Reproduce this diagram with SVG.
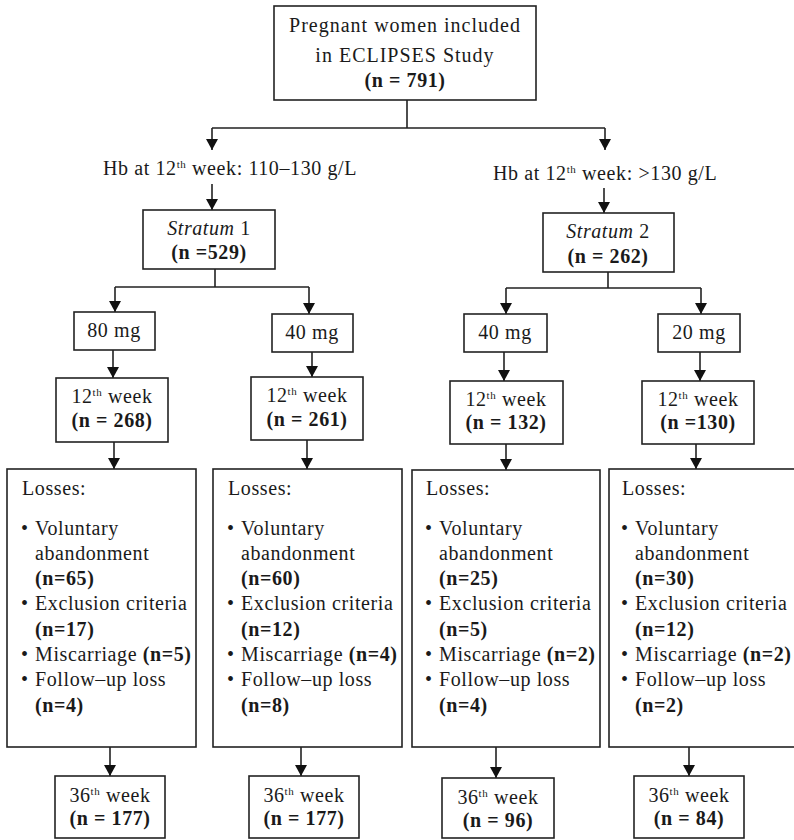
<svg xmlns="http://www.w3.org/2000/svg" width="794" height="840" viewBox="0 0 794 840">
<style>
  text { font-family: "Liberation Serif", "Times New Roman", serif; font-size: 20px; fill: #1a1a1a; letter-spacing: 0.6px; }
  .c { text-anchor: middle; }
  .b { font-weight: bold; }
  .i { font-style: italic; }
  .sup { font-size: 11px; }
  .box { fill: #ffffff; stroke: #222222; stroke-width: 1.6; }
  .ln { fill: none; stroke: #222222; stroke-width: 1.6; }
</style>
<defs>
  <marker id="ah" markerUnits="userSpaceOnUse" markerWidth="12" markerHeight="12" refX="11" refY="6" orient="auto">
    <path d="M0,0 L11,6 L0,12 z" fill="#111111"/>
  </marker>
</defs>
<rect width="794" height="840" fill="#ffffff"/>

<g id="connectors">
  <path class="ln" d="M407,100 V128 M212,128 H605"/>
  <path class="ln" d="M212,128 V150" marker-end="url(#ah)"/>
  <path class="ln" d="M605,128 V150" marker-end="url(#ah)"/>
  <path class="ln" d="M212,184 V210" marker-end="url(#ah)"/>
  <path class="ln" d="M604,188 V213" marker-end="url(#ah)"/>
  <path class="ln" d="M215,269 V287 M115,287 H309"/>
  <path class="ln" d="M115,287 V312" marker-end="url(#ah)"/>
  <path class="ln" d="M309,287 V314" marker-end="url(#ah)"/>
  <path class="ln" d="M608,272 V288 M506,288 H701"/>
  <path class="ln" d="M506,288 V314" marker-end="url(#ah)"/>
  <path class="ln" d="M701,288 V314" marker-end="url(#ah)"/>
  <path class="ln" d="M113,350 V378" marker-end="url(#ah)"/>
  <path class="ln" d="M312,352 V377" marker-end="url(#ah)"/>
  <path class="ln" d="M504,352 V381" marker-end="url(#ah)"/>
  <path class="ln" d="M700,352 V381" marker-end="url(#ah)"/>
  <path class="ln" d="M114,442 V469" marker-end="url(#ah)"/>
  <path class="ln" d="M307,440 V469" marker-end="url(#ah)"/>
  <path class="ln" d="M506,444 V470" marker-end="url(#ah)"/>
  <path class="ln" d="M696,444 V469" marker-end="url(#ah)"/>
  <path class="ln" d="M110,747 V776" marker-end="url(#ah)"/>
  <path class="ln" d="M301,747 V776" marker-end="url(#ah)"/>
  <path class="ln" d="M496,747 V778" marker-end="url(#ah)"/>
  <path class="ln" d="M689,747 V776" marker-end="url(#ah)"/>
</g>

<g id="root">
  <rect class="box" x="274" y="6" width="262" height="94"/>
  <text class="c" x="405" y="32" style="letter-spacing:1px">Pregnant women included</text>
  <text class="c" x="405" y="62" style="letter-spacing:1px">in ECLIPSES Study</text>
  <text class="c b" x="405" y="87">(n = 791)</text>
</g>

<g id="label-hb1">
  <text x="103" y="175">Hb at 12<tspan class="sup" dy="-7">th</tspan><tspan dy="7"> week: 110–130 g/L</tspan></text>
</g>
<g id="label-hb2">
  <text x="493" y="180">Hb at 12<tspan class="sup" dy="-7">th</tspan><tspan dy="7"> week: &gt;130 g/L</tspan></text>
</g>

<g id="stratum1">
  <rect class="box" x="143" y="210" width="132" height="59"/>
  <text class="c" x="209" y="235"><tspan class="i">Stratum</tspan> 1</text>
  <text class="c b" x="209" y="259">(n =529)</text>
</g>
<g id="stratum2">
  <rect class="box" x="543" y="213" width="131" height="59"/>
  <text class="c" x="608" y="238"><tspan class="i">Stratum</tspan> 2</text>
  <text class="c b" x="608" y="263">(n = 262)</text>
</g>

<g id="dose-80">
  <rect class="box" x="74" y="312" width="81" height="38"/>
  <text class="c" x="114" y="337">80 mg</text>
</g>
<g id="dose-40a">
  <rect class="box" x="272" y="314" width="81" height="38"/>
  <text class="c" x="312" y="339">40 mg</text>
</g>
<g id="dose-40b">
  <rect class="box" x="464" y="314" width="83" height="38"/>
  <text class="c" x="505" y="339">40 mg</text>
</g>
<g id="dose-20">
  <rect class="box" x="658" y="314" width="82" height="38"/>
  <text class="c" x="699" y="339">20 mg</text>
</g>

<g id="w12-1">
  <rect class="box" x="56" y="378" width="112" height="64"/>
  <text class="c" x="112" y="403">12<tspan class="sup" dy="-7">th</tspan><tspan dy="7"> week</tspan></text>
  <text class="c b" x="112" y="427">(n = 268)</text>
</g>
<g id="w12-2">
  <rect class="box" x="251" y="377" width="112" height="63"/>
  <text class="c" x="307" y="402">12<tspan class="sup" dy="-7">th</tspan><tspan dy="7"> week</tspan></text>
  <text class="c b" x="307" y="426">(n = 261)</text>
</g>
<g id="w12-3">
  <rect class="box" x="450" y="381" width="113" height="63"/>
  <text class="c" x="506" y="406">12<tspan class="sup" dy="-7">th</tspan><tspan dy="7"> week</tspan></text>
  <text class="c b" x="506" y="429">(n = 132)</text>
</g>
<g id="w12-4">
  <rect class="box" x="642" y="381" width="112" height="63"/>
  <text class="c" x="698" y="406">12<tspan class="sup" dy="-7">th</tspan><tspan dy="7"> week</tspan></text>
  <text class="c b" x="698" y="429">(n =130)</text>
</g>

<g id="losses-1">
  <rect class="box" x="7" y="469" width="189" height="278"/>
  <text x="22" y="495">Losses:</text>
  <text x="21" y="535">•</text><text x="35" y="535">Voluntary</text>
  <text x="35" y="560">abandonment</text>
  <text class="b" x="35" y="585">(n=65)</text>
  <text x="21" y="610">•</text><text x="35" y="610">Exclusion criteria</text>
  <text class="b" x="35" y="636">(n=17)</text>
  <text x="21" y="661">•</text><text x="35" y="661">Miscarriage <tspan class="b">(n=5)</tspan></text>
  <text x="21" y="686">•</text><text x="35" y="686">Follow–up loss</text>
  <text class="b" x="35" y="712">(n=4)</text>
</g>
<g id="losses-2">
  <rect class="box" x="213" y="469" width="189" height="278"/>
  <text x="228" y="495">Losses:</text>
  <text x="227" y="535">•</text><text x="241" y="535">Voluntary</text>
  <text x="241" y="560">abandonment</text>
  <text class="b" x="241" y="585">(n=60)</text>
  <text x="227" y="610">•</text><text x="241" y="610">Exclusion criteria</text>
  <text class="b" x="241" y="636">(n=12)</text>
  <text x="227" y="661">•</text><text x="241" y="661">Miscarriage <tspan class="b">(n=4)</tspan></text>
  <text x="227" y="686">•</text><text x="241" y="686">Follow–up loss</text>
  <text class="b" x="241" y="712">(n=8)</text>
</g>
<g id="losses-3">
  <rect class="box" x="412" y="470" width="188" height="277"/>
  <text x="426" y="495">Losses:</text>
  <text x="425" y="535">•</text><text x="439" y="535">Voluntary</text>
  <text x="439" y="560">abandonment</text>
  <text class="b" x="439" y="585">(n=25)</text>
  <text x="425" y="610">•</text><text x="439" y="610">Exclusion criteria</text>
  <text class="b" x="439" y="636">(n=5)</text>
  <text x="425" y="661">•</text><text x="439" y="661">Miscarriage <tspan class="b">(n=2)</tspan></text>
  <text x="425" y="686">•</text><text x="439" y="686">Follow–up loss</text>
  <text class="b" x="439" y="712">(n=4)</text>
</g>
<g id="losses-4">
  <rect class="box" x="609" y="469" width="190" height="278"/>
  <text x="622" y="495">Losses:</text>
  <text x="621" y="535">•</text><text x="635" y="535">Voluntary</text>
  <text x="635" y="560">abandonment</text>
  <text class="b" x="635" y="585">(n=30)</text>
  <text x="621" y="610">•</text><text x="635" y="610">Exclusion criteria</text>
  <text class="b" x="635" y="636">(n=12)</text>
  <text x="621" y="661">•</text><text x="635" y="661">Miscarriage <tspan class="b">(n=2)</tspan></text>
  <text x="621" y="686">•</text><text x="635" y="686">Follow–up loss</text>
  <text class="b" x="635" y="712">(n=2)</text>
</g>

<g id="w36-1">
  <rect class="box" x="55" y="776" width="110" height="62"/>
  <text class="c" x="110" y="802">36<tspan class="sup" dy="-7">th</tspan><tspan dy="7"> week</tspan></text>
  <text class="c b" x="110" y="825">(n = 177)</text>
</g>
<g id="w36-2">
  <rect class="box" x="249" y="776" width="110" height="62"/>
  <text class="c" x="304" y="802">36<tspan class="sup" dy="-7">th</tspan><tspan dy="7"> week</tspan></text>
  <text class="c b" x="304" y="825">(n = 177)</text>
</g>
<g id="w36-3">
  <rect class="box" x="442" y="778" width="112" height="60"/>
  <text class="c" x="498" y="804">36<tspan class="sup" dy="-7">th</tspan><tspan dy="7"> week</tspan></text>
  <text class="c b" x="498" y="827">(n = 96)</text>
</g>
<g id="w36-4">
  <rect class="box" x="634" y="776" width="110" height="62"/>
  <text class="c" x="689" y="802">36<tspan class="sup" dy="-7">th</tspan><tspan dy="7"> week</tspan></text>
  <text class="c b" x="689" y="825">(n = 84)</text>
</g>
</svg>
